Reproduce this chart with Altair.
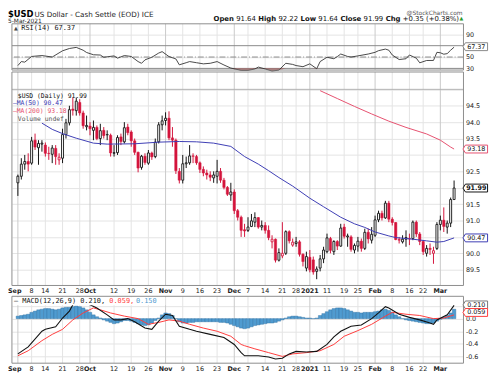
import altair as alt
import pandas as pd

# ---------------- data (trading-day index 0 = 1-Sep-2020 ... 127 = 5-Mar-2021) -------------
opens = [92.15,92.35,92.72,92.80,92.75,93.45,93.22,93.33,93.30,93.05,93.02,93.20,92.85,92.90,93.62,93.98,
         94.40,94.35,94.60,94.28,93.86,93.88,93.75,93.84,93.50,93.75,93.62,93.60,93.05,93.07,93.55,93.40,
         93.85,93.70,93.43,93.08,92.62,92.96,92.75,93.06,92.95,93.40,93.92,94.05,94.12,93.52,93.45,92.50,
         92.23,92.73,92.76,92.97,92.95,92.76,92.56,92.45,92.39,92.30,92.35,92.50,92.23,92.01,91.78,91.87,
         91.30,91.10,90.72,90.70,90.82,90.95,91.09,90.80,90.85,90.70,90.35,90.43,89.79,89.92,90.00,90.66,
         90.25,90.30,90.35,89.97,89.55,89.88,89.80,89.45,89.55,89.83,90.05,90.45,90.05,90.36,90.22,90.80,
         90.50,90.50,90.10,90.22,90.37,90.15,90.64,90.40,90.55,91.02,91.22,91.08,91.53,91.04,90.94,90.42,
         90.35,90.43,90.45,90.45,90.95,90.59,90.36,90.00,90.15,90.00,90.15,90.88,91.01,90.80,90.92,91.64]
highs = [92.40,92.90,93.00,93.05,93.55,93.65,93.45,93.45,93.38,93.25,93.30,93.30,93.05,93.80,94.10,94.50,
         94.75,94.75,94.70,94.35,94.20,94.00,94.05,93.90,93.95,93.85,93.75,93.65,93.30,93.60,93.65,94.00,
         93.95,93.75,93.50,93.10,93.00,93.05,93.15,93.10,93.50,94.00,94.20,94.30,94.33,93.85,93.50,92.60,
         93.00,92.95,93.30,93.05,93.00,92.80,92.65,92.55,92.50,92.50,92.85,92.60,92.30,92.05,92.15,91.95,
         91.35,91.15,90.90,91.10,91.20,91.25,91.10,91.00,90.95,90.85,90.55,90.45,90.15,90.95,90.70,90.70,
         90.45,90.50,90.40,90.00,90.05,90.10,89.90,89.60,89.95,90.20,90.60,90.50,90.40,90.40,90.90,90.90,
         90.60,90.55,90.30,90.50,90.45,90.75,90.75,90.80,91.15,91.30,91.30,91.60,91.60,91.10,90.95,90.50,
         90.55,90.70,90.60,91.00,91.00,90.65,90.40,90.25,90.30,90.20,90.95,91.15,91.40,91.00,91.70,92.22]
lows = [91.75,92.25,92.55,92.50,92.70,93.15,92.70,93.10,92.95,92.85,92.75,92.70,92.70,92.75,93.50,93.90,
        94.20,94.20,94.20,93.80,93.75,93.60,93.45,93.45,93.30,93.50,93.45,92.95,92.95,93.00,93.30,93.35,
        93.60,93.25,93.00,92.47,92.55,92.70,92.70,92.85,92.90,93.35,93.75,93.90,93.45,93.25,92.42,92.13,
        92.13,92.60,92.70,92.75,92.70,92.45,92.35,92.25,92.20,92.15,92.13,92.15,91.95,91.75,91.60,91.20,
        91.00,90.50,90.50,90.65,90.80,90.80,90.75,90.70,90.60,90.40,90.15,89.72,89.75,89.85,89.95,90.30,
        90.20,90.20,89.90,89.60,89.45,89.42,89.35,89.21,89.45,89.70,90.00,90.00,89.95,90.10,90.20,90.45,
        90.20,90.05,90.00,90.05,90.05,90.10,90.30,90.30,90.50,90.95,91.00,91.05,90.95,90.85,90.40,90.30,
        90.30,90.20,90.25,90.40,90.50,90.25,89.95,89.90,89.95,89.68,90.10,90.70,90.65,90.60,90.80,91.64]
closes = [92.35,92.72,92.80,92.72,93.43,93.24,93.35,93.36,93.05,93.04,93.21,92.95,92.93,93.62,93.98,94.38,
          94.36,94.64,94.28,93.89,93.90,93.80,93.84,93.50,93.74,93.59,93.61,93.06,93.07,93.53,93.41,93.83,
          93.68,93.43,93.08,92.60,92.96,92.77,93.06,92.94,93.39,93.92,94.04,94.12,93.52,93.45,92.52,92.23,
          92.73,92.76,92.97,92.96,92.76,92.56,92.45,92.39,92.32,92.39,92.50,92.23,92.01,91.80,91.87,91.30,
          91.10,90.70,90.68,90.80,90.99,91.09,90.80,90.85,90.70,90.48,90.43,89.79,90.02,90.00,90.66,90.38,
          90.34,90.35,89.97,89.75,89.90,89.50,89.43,89.52,89.83,90.10,90.47,90.09,90.36,90.22,90.77,90.52,
          90.53,90.12,90.24,90.37,90.15,90.64,90.44,90.58,91.02,91.22,91.08,91.53,91.04,90.94,90.42,90.40,
          90.43,90.48,90.44,90.95,90.59,90.36,90.05,90.15,90.12,90.08,90.88,91.01,90.82,90.92,91.64,91.99]

ma50_i = [7,10,13,17,22,26,34,41,47,52,57,62,66,70,73,76,80,85,89,94,98,101,104,108,110,115,119,122,124,127]
ma50_v = [93.97,93.78,93.65,93.51,93.36,93.33,93.34,93.39,93.41,93.40,93.36,93.26,92.95,92.72,92.52,92.31,
          92.05,91.68,91.42,91.10,90.90,90.79,90.65,90.53,90.48,90.43,90.38,90.34,90.36,90.47]
ma200_i = [88,93,98,103,108,113,119,123,126,127]
ma200_v = [94.96,94.72,94.48,94.25,94.03,93.84,93.64,93.45,93.24,93.18]

rsi_i = [0,1,2,4,7,10,13,15,17,19,20,22,24,25,28,29,31,33,35,36,37,39,41,42,44,46,47,49,50,52,54,56,58,60,
         62,65,67,69,70,72,74,76,78,80,81,83,85,87,88,90,92,93,94,96,97,99,102,104,105,107,108,109,111,113,
         114,116,117,119,121,122,123,124,125,126,127]
rsi_v = [35,42,41,51,52.6,50,61,65,67,62,58,54,53.5,49.6,52,48,52.6,51,42,39,45,49.6,57,59.5,50.8,46.7,36.3,
         40,42,40,38,39,42,36,30.6,26.5,26.5,29,32.3,29,25.3,27,39,37,35,33,38,29.4,42,49.6,47,50.8,55.3,51,50,
         52,55.3,58.3,61.2,64,62,53.6,45.6,47,53.6,48,39.8,43.9,44,58.3,57.5,55,56,62,67.37]

macd_i = [0,3,7,8,11,13,15,16,18,21,23,26,28,30,32,34,37,39,41,43,45,47,50,52,56,60,63,65,66,70,73,75,77,79,
          81,84,87,90,92,94,97,100,103,105,107,108,111,114,117,120,121,122,125,127]
macd_v = [-0.56,-0.45,-0.20,-0.17,-0.13,0.01,0.12,0.22,0.28,0.22,0.17,0.06,-0.02,-0.02,0.0,-0.05,-0.15,-0.17,
          -0.04,0.07,0.05,-0.12,-0.17,-0.20,-0.25,-0.30,-0.41,-0.54,-0.59,-0.59,-0.61,-0.64,-0.63,-0.56,-0.52,
          -0.53,-0.52,-0.41,-0.29,-0.20,-0.12,-0.10,0.0,0.09,0.19,0.17,0.07,0.02,-0.02,-0.07,-0.09,-0.02,0.06,0.210]
sig_i = [0,3,7,10,13,16,19,22,24,27,31,35,38,41,44,47,50,54,58,62,65,66,69,73,77,80,84,88,92,95,99,103,107,
         109,113,117,121,124,127]
sig_v = [-0.59,-0.51,-0.35,-0.25,-0.17,-0.02,0.09,0.17,0.14,0.09,0.04,0.0,-0.09,-0.06,-0.02,-0.04,-0.09,-0.15,
         -0.20,-0.28,-0.41,-0.43,-0.48,-0.54,-0.60,-0.56,-0.54,-0.51,-0.41,-0.28,-0.19,-0.09,0.04,0.10,0.07,
         0.05,0.0,0.01,0.059]
hist_v = [0.04,0.05,0.06,0.07,
          0.10,0.12,0.14,0.15,0.16,0.16,0.15,0.14,0.15,
          0.17,0.18,0.18,0.19,0.20,0.19,0.17,0.14,
          0.10,0.06,0.03,0.01,-0.02,-0.04,-0.06,
          -0.08,-0.07,-0.05,-0.03,-0.03,-0.04,
          -0.06,-0.08,-0.10,-0.11,-0.10,-0.07,-0.03,
          0.01,0.06,0.09,0.08,0.05,0.00,
          -0.05,-0.07,-0.07,-0.06,-0.06,-0.05,-0.05,-0.05,-0.05,
          -0.05,-0.05,-0.05,-0.06,-0.06,-0.07,-0.09,
          -0.11,-0.13,-0.15,-0.16,-0.15,-0.13,-0.11,-0.10,
          -0.09,-0.08,-0.07,-0.07,-0.06,-0.04,-0.02,0.01,
          0.03,0.04,0.04,0.03,0.02,0.01,0.01,0.00,0.01,
          0.05,0.08,0.11,0.14,0.16,0.17,0.17,0.16,
          0.14,0.12,0.10,0.10,0.09,0.10,0.10,0.10,
          0.11,0.12,0.14,0.15,0.13,0.10,0.06,
          0.03,0.00,-0.02,-0.03,-0.04,-0.05,-0.06,
          -0.07,-0.08,-0.08,-0.07,-0.04,-0.01,
          0.02,0.05,0.09,0.15]

tick_i = [0,4,8,13,18,21,28,33,38,43,48,53,58,63,67,72,77,81,85,90,95,99,104,109,114,118,123]
tick_lab = ["Sep","8","14","21","28","Oct","12","19","26","Nov","9","16","23","Dec","7","14","21","28",
            "2021","11","19","25","Feb","8","16","22","Mar"]
bold_labs = ["Sep","Oct","Nov","Dec","2021","Feb","Mar"]

# ---------------- geometry (view coords = page - (12, 8)) ----------------
W, H = 459, 371
RSI_T, RSI_B = 13, 60
MAIN_T, MAIN_B = 62, 279
MACD_T, MACD_B = 290, 358

XS = alt.Scale(domain=[-0.3, 128.3], nice=False, zero=False)
YR = alt.Scale(domain=[27.1, 108.5], range=[RSI_B, RSI_T], nice=False, zero=False)
YM = alt.Scale(domain=[89.019, 95.529], range=[MAIN_B, MAIN_T], nice=False, zero=False)
YD = alt.Scale(domain=[-0.7078, 0.3547], range=[MACD_B, MACD_T], nice=False, zero=False)

RED = "#d4143c"
BLUE_MA = "#3c3cb4"
RED_MA = "#e6506e"
GRID = "#e3e3e3"
FONT = "DejaVu Sans"
MONO = "DejaVu Sans Mono"

def X(f="i"):
    return alt.X(f"{f}:Q", scale=XS, axis=None)

def yax(values, expr):
    return alt.Axis(orient="right", values=values, labelExpr=expr, grid=True, gridColor=GRID,
                    gridWidth=1, domain=False, ticks=False, labelPadding=2, title=None,
                    labelFont=FONT, labelFontSize=6.5, labelColor="#222", labelBaseline="middle")

dummy = pd.DataFrame({"d": [0]})

df = pd.DataFrame({"i": list(range(len(closes))), "o": opens, "h": highs, "l": lows, "c": closes})
prev = [opens[0]] + closes[:-1]
df["dir"] = ["up" if c >= p else "down" for c, p in zip(closes, prev)]
df["hollow"] = [1 if c >= o else 0 for c, o in zip(closes, opens)]
DIRS = alt.Scale(domain=["up", "down"], range=["#111111", RED])

ma50 = pd.DataFrame({"i": ma50_i, "v": ma50_v})
ma200 = pd.DataFrame({"i": ma200_i, "v": ma200_v})
rsi = pd.DataFrame({"i": rsi_i, "v": rsi_v})
macd = pd.DataFrame({"i": macd_i, "v": macd_v})
sig = pd.DataFrame({"i": sig_i, "v": sig_v})
hist = pd.DataFrame({"i": list(range(len(hist_v))), "v": hist_v})
ticks = pd.DataFrame({"i": tick_i, "lab": tick_lab})
ticks["bold"] = [1 if t in bold_labs else 0 for t in tick_lab]
ticks["month"] = ticks["bold"]

layers = []

# vertical grid lines per panel
for top, bot in [(RSI_T, RSI_B), (MAIN_T, MAIN_B), (MACD_T, MACD_B)]:
    layers.append(alt.Chart(ticks).transform_filter("datum.month == 0").mark_rule(color=GRID, strokeWidth=1)
                  .encode(x=X(), y=alt.value(top), y2=alt.value(bot)))
    layers.append(alt.Chart(ticks).transform_filter("datum.month == 1").mark_rule(color="#c9c9c9", strokeWidth=1)
                  .encode(x=X(), y=alt.value(top), y2=alt.value(bot)))

# ---- RSI panel ----
layers.append(alt.Chart(pd.DataFrame({"v": [30, 70]})).mark_rule(color="#8a8a8a", strokeWidth=1)
              .encode(y=alt.Y("v:Q", scale=YR, axis=yax([30, 50, 90], "datum.label"))))
layers.append(alt.Chart(pd.DataFrame({"v": [50]})).mark_rule(color="#8a8a8a", strokeWidth=1, strokeDash=[6, 2, 1, 2])
              .encode(y=alt.Y("v:Q", scale=YR, axis=None)))
layers.append(alt.Chart(rsi).transform_calculate(lo="min(datum.v, 30)")
              .mark_area(color="#b04848", opacity=0.75)
              .encode(x=X(), y=alt.Y("lo:Q", scale=YR, axis=None), y2=alt.datum(30)))
layers.append(alt.Chart(rsi).mark_line(color="#333333", strokeWidth=0.9)
              .encode(x=X(), y=alt.Y("v:Q", scale=YR, axis=None)))

# ---- price panel ----
main_vals = [89.5, 90.0, 90.5, 91.0, 91.5, 92.0, 92.5, 93.0, 93.5, 94.0, 94.5, 95.0]
main_expr = ("(datum.value == 90.5 || datum.value == 92 || datum.value == 93 || datum.value == 95)"
             " ? '' : format(datum.value, '.1f')")
layers.append(alt.Chart(pd.DataFrame({"v": [95.0]})).mark_rule(color="#b0b0b0", strokeWidth=1)
              .encode(y=alt.Y("v:Q", scale=YM, axis=yax(main_vals, main_expr))))
layers.append(alt.Chart(df).mark_rule(strokeWidth=1)
              .encode(x=X(), y=alt.Y("l:Q", scale=YM, axis=None), y2="h:Q",
                      color=alt.Color("dir:N", scale=DIRS, legend=None)))
layers.append(alt.Chart(df).transform_filter("datum.hollow == 0").mark_bar(size=2.4, strokeWidth=0.5)
              .encode(x=X(), y=alt.Y("o:Q", scale=YM, axis=None), y2="c:Q",
                      fill=alt.Fill("dir:N", scale=DIRS, legend=None),
                      stroke=alt.Stroke("dir:N", scale=DIRS, legend=None)))
layers.append(alt.Chart(df).transform_filter("datum.hollow == 1").mark_bar(size=2.0, strokeWidth=0.9, fill="white")
              .encode(x=X(), y=alt.Y("o:Q", scale=YM, axis=None), y2="c:Q",
                      stroke=alt.Stroke("dir:N", scale=DIRS, legend=None)))
layers.append(alt.Chart(ma50).mark_line(color=BLUE_MA, strokeWidth=1)
              .encode(x=X(), y=alt.Y("v:Q", scale=YM, axis=None)))
layers.append(alt.Chart(ma200).mark_line(color=RED_MA, strokeWidth=1)
              .encode(x=X(), y=alt.Y("v:Q", scale=YM, axis=None)))

# ---- MACD panel ----
macd_expr = "datum.value > 0.1 ? '' : (datum.value == 0 ? '0.0' : toString(round(datum.value * 10) / 10))"
layers.append(alt.Chart(hist).mark_bar(size=3.57, fill="#4f9bd0", stroke="#2f6f9f", strokeWidth=0.4)
              .encode(x=X(), y=alt.Y("v:Q", scale=YD, axis=yax([-0.6, -0.4, -0.2, 0.0, 0.2], macd_expr)),
                      y2=alt.datum(0)))
layers.append(alt.Chart(sig).mark_line(color="#ff3b3b", strokeWidth=1)
              .encode(x=X(), y=alt.Y("v:Q", scale=YD, axis=None)))
layers.append(alt.Chart(macd).mark_line(color="#111111", strokeWidth=1.1)
              .encode(x=X(), y=alt.Y("v:Q", scale=YD, axis=None)))

# ---- panel frames ----
for top, bot in [(RSI_T, RSI_B), (MAIN_T, MAIN_B), (MACD_T, MACD_B)]:
    layers.append(alt.Chart(dummy).mark_rect(fillOpacity=0, stroke="#8c8c8c", strokeWidth=1)
                  .encode(x=alt.value(0), x2=alt.value(W), y=alt.value(top), y2=alt.value(bot)))

def txt(s, x, y, size=7, weight="normal", color="#000000", font=FONT, align="left", baseline="alphabetic"):
    return alt.Chart(dummy).mark_text(align=align, baseline=baseline, fontSize=size, fontWeight=weight,
                                      font=font, color=color).encode(
        x=alt.value(x), y=alt.value(y), text=alt.value(s))

# legend box behind the MACD legend
layers.append(alt.Chart(dummy).mark_rect(fill="white").encode(
    x=alt.value(1), x2=alt.value(156), y=alt.value(291), y2=alt.value(299)))

# ---- x axis labels (two rows) ----
for yrow in [285, 364]:
    layers.append(alt.Chart(ticks).transform_filter("datum.bold == 0 && datum.i > 0")
                  .mark_text(baseline="middle", fontSize=6.5, font=FONT, color="#222")
                  .encode(x=X(), y=alt.value(yrow), text="lab:N"))
    layers.append(alt.Chart(ticks).transform_filter("datum.bold == 1 && datum.i > 0")
                  .mark_text(baseline="middle", fontSize=6.5, font=FONT, fontWeight="bold", color="#222")
                  .encode(x=X(), y=alt.value(yrow), text="lab:N"))
    layers.append(txt("Sep", -4, yrow, size=6.5, weight="bold", color="#222", baseline="middle"))

# ---- in-panel legends ----
layers.append(txt("\u25b2", 2, 17.5, size=5, color="#444", font=FONT, baseline="middle"))
layers.append(txt("RSI(14) 67.37", 9.5, 17.5, size=7, font=MONO, baseline="middle", color="#111"))
layers.append(txt("$USD (Daily) 91.99", 6, 86, size=6.5, font=MONO, baseline="middle", color="#111"))
layers.append(txt("\u2014MA(50) 90.47", 1, 94, size=6.5, font=MONO, baseline="middle", color=BLUE_MA))
layers.append(txt("\u2014MA(200) 93.18", 1, 102, size=6.5, font=MONO, baseline="middle", color=RED_MA))
layers.append(txt("Volume undef", 6, 110, size=6.5, font=MONO, baseline="middle", color="#555"))
layers.append(txt("\u2014", 2, 295, size=7, font=MONO, baseline="middle", color="#111"))
layers.append(txt("MACD(12,26,9) 0.210,", 10.5, 295, size=7, font=MONO, baseline="middle", color="#111"))
layers.append(txt("0.059,", 99, 295, size=7, font=MONO, baseline="middle", color="#ff3b3b"))
layers.append(txt("0.150", 126, 295, size=7, font=MONO, baseline="middle", color="#4f9bd0"))

# ---- value badges ----
BADGE = "M-1,0 L-0.8,-0.32 L1,-0.32 L1,0.32 L-0.8,0.32 Z"
def badge(val, label, scale, col, weight="normal", dy=0):
    d = pd.DataFrame({"v": [val], "t": [label]})
    p = alt.Chart(d).mark_point(shape=BADGE, size=625, fill="white", fillOpacity=1, stroke=col,
                                strokeWidth=1, opacity=1, yOffset=dy).encode(
        x=alt.value(471), y=alt.Y("v:Q", scale=scale, axis=None))
    t = alt.Chart(d).mark_text(fontSize=6.5, font=FONT, fontWeight=weight, color="#111",
                               baseline="middle", align="center", yOffset=dy).encode(
        x=alt.value(472), y=alt.Y("v:Q", scale=scale, axis=None), text="t:N")
    return [p, t]

layers += badge(67.37, "67.37", YR, "#888888", dy=-0.5)
layers += badge(93.18, "93.18", YM, RED_MA)
layers += badge(91.99, "91.99", YM, "#111111", "bold")
layers += badge(90.47, "90.47", YM, BLUE_MA)
layers += badge(0.210, "0.210", YD, "#777777", dy=-0.5)
layers += badge(0.059, "0.059", YD, "#ff3b3b", dy=-2.5)

# ---- header ----
layers.append(txt("$USD", -4, 6, size=8.5, weight="bold"))
layers.append(txt("US Dollar - Cash Settle (EOD) ICE", 23, 6, size=7.3, color="#222"))
layers.append(txt("5-Mar-2021", -4, 12.3, size=6, color="#222"))
layers.append(txt("@StockCharts.com", 458, 4.5, size=6, color="#555", align="right"))
stats = [("Open", 205, "bold"), ("91.64", 227.9, "normal"), ("High", 250.4, "bold"), ("92.22", 270.9, "normal"),
         ("Low", 293.4, "bold"), ("91.64", 311.4, "normal"), ("Close", 333.9, "bold"), ("91.99", 357.4, "normal"),
         ("Chg", 379.9, "bold"), ("+0.35 (+0.38%)", 397.3, "normal")]
for s, x, w in stats:
    layers.append(txt(s, x, 10, size=7, weight=w, color="#111"))
layers.append(txt("\u25b2", 455, 9.5, size=5, color="#2a9a2a"))

chart = alt.layer(*layers).resolve_scale(y="independent").properties(
    width=W, height=H,
    autosize=alt.AutoSizeParams(type="none"),
    padding={"left": 4, "top": 0, "right": 29, "bottom": 0},
).configure_view(stroke=None)

chart.save("out.html", embed_options={"renderer": "svg", "actions": False})
